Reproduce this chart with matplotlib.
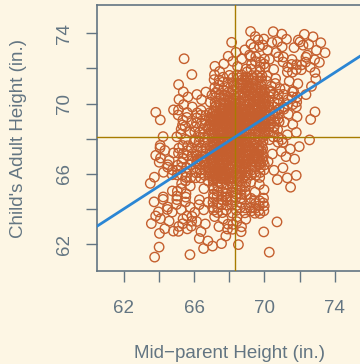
import numpy as np
import matplotlib
matplotlib.use("Agg")
import matplotlib.pyplot as plt

# Galton data: counts of children at each (child height, mid-parent height)
parent_levels = [64.0, 64.5, 65.5, 66.5, 67.5, 68.5, 69.5, 70.5, 71.5, 72.5, 73.0]
child_levels = [61.7, 62.2, 63.2, 64.2, 65.2, 66.2, 67.2, 68.2, 69.2, 70.2, 71.2, 72.2, 73.2, 73.7]
counts_617 = [1, 1, 1, 0, 0, 1, 0, 1, 0, 0, 0]
counts_622 = [0, 1, 0, 3, 3, 0, 0, 0, 0, 0, 0]
counts_632 = [2, 4, 9, 3, 5, 7, 1, 1, 0, 0, 0]
counts_642 = [4, 4, 5, 5, 14, 11, 16, 0, 0, 0, 0]
counts_652 = [1, 1, 7, 2, 15, 16, 4, 1, 1, 0, 0]
counts_662 = [2, 5, 11, 17, 36, 25, 17, 1, 3, 0, 0]
counts_672 = [2, 5, 11, 17, 38, 31, 27, 3, 4, 0, 0]
counts_682 = [1, 0, 7, 14, 28, 34, 20, 12, 3, 1, 0]
counts_692 = [1, 2, 7, 13, 38, 48, 33, 18, 5, 2, 0]
counts_702 = [0, 0, 5, 4, 19, 21, 25, 14, 10, 1, 0]
counts_712 = [0, 0, 2, 0, 11, 18, 20, 7, 4, 2, 0]
counts_722 = [0, 0, 1, 0, 4, 4, 11, 4, 9, 7, 1]
counts_732 = [0, 0, 0, 0, 0, 3, 4, 3, 2, 2, 3]
counts_737 = [0, 0, 0, 0, 0, 0, 5, 3, 2, 4, 0]
count_rows = [counts_617, counts_622, counts_632, counts_642, counts_652, counts_662,
              counts_672, counts_682, counts_692, counts_702, counts_712, counts_722,
              counts_732, counts_737]
xticks = [62, 64, 66, 68, 70, 72, 74]
xticklabels = ["62", "", "66", "", "70", "", "74"]
yticks = [62, 64, 66, 68, 70, 72, 74]
yticklabels = ["62", "", "66", "", "70", "", "74"]

# expand table
parent = []
child = []
for cv, row in zip(child_levels, count_rows):
    for pv, n in zip(parent_levels, row):
        parent += [pv] * n
        child += [cv] * n
parent = np.array(parent)
child = np.array(child)

# deterministic jitter (R2 low-discrepancy sequence), amount +-0.5
n = len(parent)
g = 1.32471795724474602596
k = np.arange(1, n + 1)
jx = ((0.5 + k / g) % 1.0) - 0.5
jy = ((0.5 + k / g ** 2) % 1.0) - 0.5
xj = parent + jx * 1.0
yj = child + jy * 1.0

bg = "#FDF6E4"
axc = "#637582"
fig = plt.figure(figsize=(3.6, 3.64), dpi=100, facecolor=bg)
ax = fig.add_axes([96.7 / 360, 93 / 364, 266.2 / 360, 266 / 364], facecolor=bg)

ax.scatter(xj, yj, s=46, facecolors="none", edgecolors="#C55F2E", linewidths=1.0, zorder=2)
ax.axvline(parent.mean(), color="#A77C00", lw=1.0, zorder=3)
ax.axhline(child.mean(), color="#A77C00", lw=1.0, zorder=3)
slope, intercept = np.polyfit(parent, child, 1)
ax.axline((parent.mean(), child.mean()), slope=slope, color="#2B86D4", lw=2.0, zorder=4)

ax.set_xlim(60.46, 75.6)
ax.set_ylim(60.48, 75.61)
ax.set_xticks(xticks)
ax.set_xticklabels(xticklabels)
ax.set_yticks(yticks)
ax.set_yticklabels(yticklabels, rotation=90, va="center")

fam = ["Liberation Sans", "DejaVu Sans"]
for lab in ax.get_xticklabels() + ax.get_yticklabels():
    lab.set_fontfamily(fam)
    lab.set_fontsize(13.5)
    lab.set_color(axc)
ax.tick_params(direction="out", length=8, width=1.0, color=axc)
ax.tick_params(axis="x", pad=13)
ax.tick_params(axis="y", pad=9)
for s in ["left", "bottom", "top", "right"]:
    ax.spines[s].set_color(axc)
    ax.spines[s].set_linewidth(1.2)

ax.set_xlabel("Mid\u2212parent Height (in.)", fontsize=13.5, color=axc, family=fam, labelpad=20)
ax.set_ylabel("Child's Adult Height (in.)", fontsize=13.5, color=axc, family=fam, labelpad=21)

fig.savefig("out.png", dpi=100, facecolor=bg)
